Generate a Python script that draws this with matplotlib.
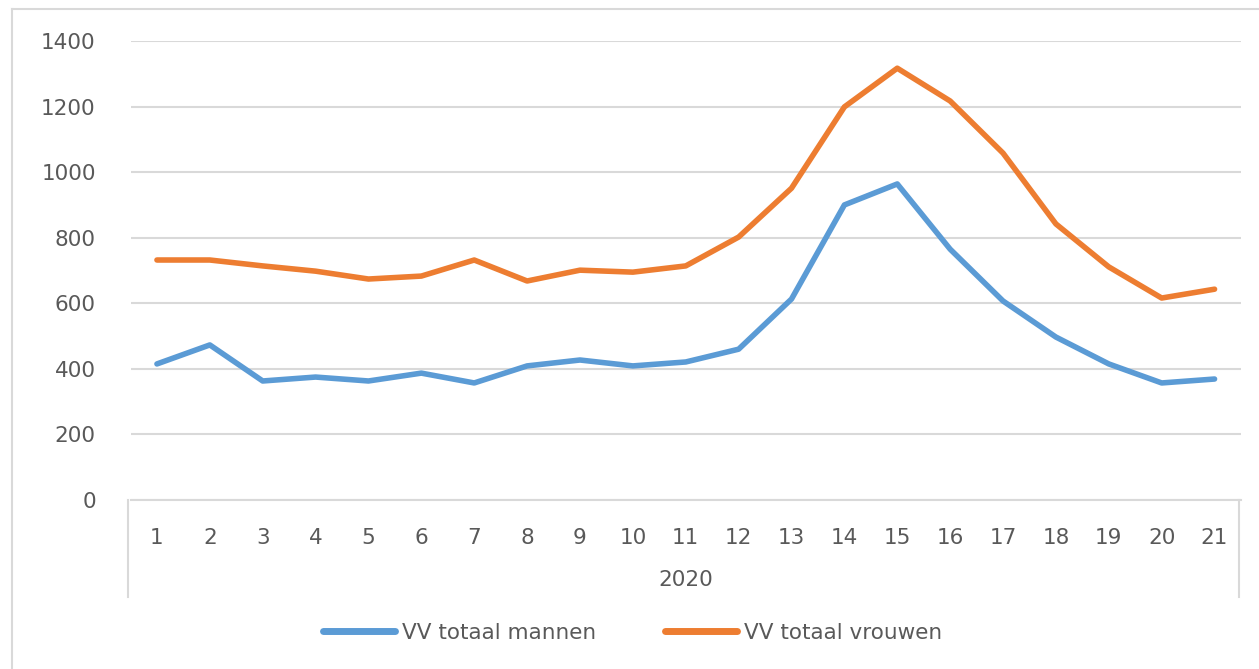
import numpy as np
import matplotlib
matplotlib.use('Agg')
import matplotlib.pyplot as plt
from matplotlib.lines import Line2D
matplotlib.rcParams.update({'font.size': 15, 'font.family': ['DejaVu Sans']})

weeks = [str(w) for w in range(1, 22)]
year_label = '2020'
mannen = [415, 473, 363, 375, 363, 387, 357, 409, 427, 409, 421,
          460, 613, 900, 964, 765, 607, 497, 415, 357, 369]
vrouwen = [732, 732, 714, 698, 674, 683, 732, 668, 701, 695, 714,
           802, 951, 1199, 1317, 1217, 1058, 842, 711, 616, 643]
series_names = ['VV totaal mannen', 'VV totaal vrouwen']
colors = ['#5B9BD5', '#ED7D31']
grey_txt = '#595959'
grid_col = '#D9D9D9'
fs = 15.5

fig = plt.figure(figsize=(12.59, 6.69), dpi=100)
ax = fig.add_axes([130.5/1259, 1-500/669, (1241-130.5)/1259, 459/669])

x = np.arange(len(weeks))
ax.plot(x, mannen, color=colors[0], lw=4, solid_capstyle='round', solid_joinstyle='round', label=series_names[0])
ax.plot(x, vrouwen, color=colors[1], lw=4, solid_capstyle='round', solid_joinstyle='round', label=series_names[1])

ax.set_xlim(-0.5, len(weeks)-0.5)
ax.set_ylim(0, 1400)
ax.set_yticks(range(0, 1401, 200))
ax.set_xticks(x)
ax.set_xticklabels(weeks)
ax.grid(axis='y', color=grid_col, lw=1.5)
ax.set_axisbelow(True)
for s in ['top', 'right', 'left']:
    ax.spines[s].set_visible(False)
ax.spines['bottom'].set_color(grid_col)
ax.spines['bottom'].set_linewidth(1.5)
ax.tick_params(axis='y', length=0, pad=25, labelcolor=grey_txt, labelsize=fs)
ax.tick_params(axis='x', length=0, pad=20, labelcolor=grey_txt, labelsize=fs)

# category group box below the axis
ybot = -97/459
for xa in [-0.0022, 0.9982]:
    ax.plot([xa, xa], [0, ybot], transform=ax.transAxes, color=grid_col, lw=1.5, clip_on=False)
ax.text(0.5, -80/459, year_label, transform=ax.transAxes, ha='center', va='center',
        color=grey_txt, fontsize=fs)

# outer chart frame
fig.add_artist(Line2D([12/1259, 12/1259], [0, 1-9/669], color=grid_col, lw=1.5))
fig.add_artist(Line2D([12/1259, 1], [1-9/669, 1-9/669], color=grid_col, lw=1.5))

handles = [Line2D([], [], color=c, lw=5, solid_capstyle='round') for c in colors]
fig.legend(handles, series_names, loc='center left', bbox_to_anchor=(323/1259, 1-633/669), ncol=2,
           frameon=False, borderaxespad=0, borderpad=0, handlelength=3.35, handletextpad=0.33,
           columnspacing=3.2, labelcolor=grey_txt, fontsize=fs)

fig.savefig('out.png', dpi=100, facecolor='white')
